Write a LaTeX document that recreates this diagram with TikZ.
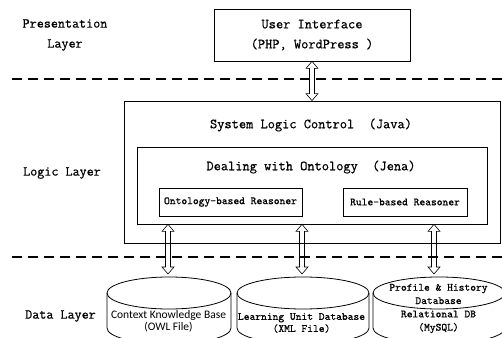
\documentclass[tikz,border=0pt]{standalone}
\usepackage{fontspec}
\setmonofont{Latin Modern Mono}[FakeBold=0.7]
\newfontfamily\cylsans{Carlito}
\usetikzlibrary{calc}
\begin{document}
\begin{tikzpicture}[x=1pt,y=1pt,
  box/.style={draw, line width=0.8pt, inner sep=0pt},
  subbox/.style={draw, line width=0.7pt, inner sep=0pt},
  layer/.style={font=\fontsize{13.7}{20}\selectfont\ttfamily\bfseries, align=center},
  big/.style={font=\fontsize{14}{20}\selectfont\ttfamily\bfseries, align=center},
  small/.style={font=\fontsize{11}{13}\selectfont\ttfamily\bfseries, align=center},
  layerline/.style={line width=2.6pt, dash pattern=on 10pt off 6pt},
  cyl/.style={line width=0.8pt},
  dblarrow/.style={draw, line width=0.6pt,
    to path={let \p1=(\tikztostart), \p2=(\tikztotarget) in
      (\x1,\y1) -- ++(6,-7) -- ++(-3.5,0) -- (\x1+2.5,\y2+7) -- ++(3.5,0)
      -- (\x2,\y2) -- ++(-6,7) -- ++(3.5,0) -- (\x1-2.5,\y1-7) -- ++(-3.5,0) -- cycle}},
]
\clip (0,0) rectangle (502,337);

% layer names
\node[layer] (lpres) at (65,302) {Presentation\\Layer};
\node[layer] (llogic) at (62,164) {Logic Layer};
\node[layer] (ldata) at (60.5,21) {Data Layer};

% layer separators
\draw[layerline] (12,258) -- (502,258);
\draw[layerline] (12,80) -- (502,80);

% presentation layer
\node[box, minimum width=196pt, minimum height=52pt] (ui) at (312,302) {};
\node[big] (uitext) at (ui.center) {User Interface\\(PHP, WordPress )};

% logic layer
\node[box, minimum width=376pt, minimum height=142pt] (outer) at (312,165) {};
\node[big] (outertext) at (311,212) {System Logic Control~~(Java)};
\node[box, minimum width=350pt, minimum height=77pt] (inner) at (312,151.5) {};
\node[big] (innertext) at (311,170) {Dealing with Ontology~~(Jena)};
\node[subbox, minimum width=143pt, minimum height=28pt, small] (onto) at (230.5,135) {Ontology-based Reasoner};
\node[subbox, minimum width=124pt, minimum height=28pt, small] (rule) at (405,135) {Rule-based Reasoner};

% data layer: cylinders
\coordinate (db1) at (168,63);
\coordinate (db2) at (302,63);
\coordinate (db3) at (434,63);

\draw[cyl] (169,44) ellipse [x radius=62, y radius=16];
\draw[cyl] (107,44) -- (107,9) arc[start angle=180, end angle=360, x radius=62, y radius=16] -- (231,44);
\draw[cyl] (303,44) ellipse [x radius=66, y radius=16];
\draw[cyl] (237,44) -- (237,9) arc[start angle=180, end angle=360, x radius=66, y radius=16] -- (369,44);
\draw[cyl] (439,44) ellipse [x radius=66, y radius=16];
\draw[cyl] (373,44) -- (373,9) arc[start angle=180, end angle=360, x radius=66, y radius=16] -- (505,44);

\node[font=\cylsans\fontsize{11.5}{12}\selectfont, align=center] (kb) at (168.5,16) {Context Knowledge Base\\(OWL File)};
\node[small, font=\fontsize{11}{12}\selectfont\ttfamily\bfseries] (lu) at (301.5,14) {Learning Unit Database\\(XML File)};
\node[small, font=\fontsize{11}{13.3}\selectfont\ttfamily\bfseries] (ph) at (438.5,28.5) {Profile \& History\\Database\\Relational DB\\(MySQL)};

% connectors
\draw[dblarrow] (ui.south) to (outer.north);
\draw[dblarrow] (inner.south -| db1) to (db1);
\draw[dblarrow] (inner.south -| db2) to (db2);
\draw[dblarrow] (inner.south -| db3) to (db3);
\end{tikzpicture}
\end{document}
